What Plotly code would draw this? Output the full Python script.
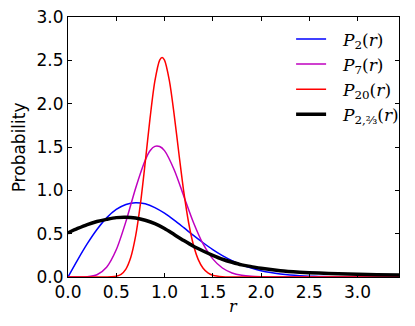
import plotly.graph_objects as go

# ---- data ----
r_p2 = [0.0, 0.1, 0.2, 0.3, 0.4, 0.5, 0.6, 0.7, 0.8, 0.9, 1.0, 1.1, 1.2, 1.3, 1.4, 1.5, 1.6, 1.7,
        1.8, 1.9, 2.0, 2.1, 2.2, 2.3, 2.4, 2.5, 2.6, 2.7, 2.8, 2.9, 3.0, 3.2, 3.43]
p2 = [0.0, 0.198, 0.384, 0.548, 0.682, 0.779, 0.837, 0.858, 0.844, 0.801, 0.736, 0.656, 0.569,
      0.480, 0.395, 0.316, 0.247, 0.189, 0.141, 0.103, 0.073, 0.051, 0.035, 0.023, 0.015, 0.0097,
      0.006, 0.0037, 0.0022, 0.0013, 0.0007, 0.0002, 0.0]

r_p7 = [0.0, 0.1, 0.2, 0.3, 0.4, 0.5, 0.6, 0.7, 0.8, 0.85, 0.9, 0.95, 1.0, 1.1, 1.2, 1.3, 1.4, 1.5,
        1.6, 1.7, 1.8, 1.9, 2.0, 2.1, 2.3, 2.6, 3.0, 3.43]
p7 = [0.0, 0.0, 0.0027, 0.0257, 0.113, 0.314, 0.639, 1.022, 1.347, 1.456, 1.507, 1.505, 1.458,
      1.238, 0.933, 0.629, 0.381, 0.209, 0.104, 0.047, 0.0195, 0.0074, 0.0026, 0.0008, 0.0, 0.0,
      0.0, 0.0]

r_p20 = [0.0, 0.2, 0.4, 0.45, 0.5, 0.55, 0.6, 0.65, 0.7, 0.75, 0.8, 0.85, 0.9, 0.95, 0.975, 1.0,
         1.05, 1.1, 1.15, 1.2, 1.25, 1.3, 1.35, 1.4, 1.45, 1.5, 1.6, 1.7, 1.8, 2.0, 2.5, 3.0, 3.43]
p20 = [0.0, 0.0, 0.0003, 0.0019, 0.0086, 0.0312, 0.0917, 0.2247, 0.4677, 0.840, 1.319, 1.830,
       2.259, 2.503, 2.534, 2.502, 2.268, 1.874, 1.416, 0.981, 0.626, 0.369, 0.201, 0.101, 0.0475,
       0.0207, 0.0032, 0.0004, 0.0, 0.0, 0.0, 0.0, 0.0]

r_pb = [0.0, 0.1, 0.2, 0.3, 0.4, 0.5, 0.6, 0.7, 0.8, 0.9, 1.0, 1.1, 1.2, 1.3, 1.4, 1.5, 1.6, 1.7,
        1.8, 1.9, 2.0, 2.2, 2.4, 2.6, 2.8, 3.0, 3.2, 3.43]
pb = [0.51, 0.56, 0.605, 0.64, 0.665, 0.685, 0.69, 0.68, 0.655, 0.615, 0.56, 0.49, 0.42, 0.355,
      0.30, 0.25, 0.205, 0.17, 0.14, 0.12, 0.10, 0.072, 0.056, 0.045, 0.037, 0.031, 0.027, 0.024]

x_ticks = [0.0, 0.5, 1.0, 1.5, 2.0, 2.5, 3.0]
y_ticks = [0.0, 0.5, 1.0, 1.5, 2.0, 2.5, 3.0]

names = ["\u2002\u2009<i>P</i><sub>2</sub>(<i>r</i>)",
         "\u2002\u2009<i>P</i><sub>7</sub>(<i>r</i>)",
         "\u2002\u2009<i>P</i><sub>20</sub>(<i>r</i>)",
         "\u2002\u2009<i>P</i><sub>2,⅔</sub>(<i>r</i>)"]

fig = go.Figure()
fig.add_trace(go.Scatter(x=r_p2, y=p2, mode="lines", name=names[0],
                         line=dict(color="#0000ff", width=1.5, shape="spline", smoothing=0.8)))
fig.add_trace(go.Scatter(x=r_p7, y=p7, mode="lines", name=names[1],
                         line=dict(color="#bf00bf", width=1.5, shape="spline", smoothing=0.8)))
fig.add_trace(go.Scatter(x=r_p20, y=p20, mode="lines", name=names[2],
                         line=dict(color="#ff0000", width=1.5, shape="spline", smoothing=0.8)))
fig.add_trace(go.Scatter(x=r_pb, y=pb, mode="lines", name=names[3],
                         line=dict(color="#000000", width=3.5, shape="spline", smoothing=0.8)))

axis_common = dict(showline=True, linecolor="black", linewidth=1, mirror="ticks",
                   ticks="inside", ticklen=4, tickwidth=1, tickcolor="black",
                   showgrid=False, zeroline=False, automargin=False,
                   tickfont=dict(family="DejaVu Sans", size=17, color="black"))

fig.update_xaxes(range=[0, 3.43], tickvals=x_ticks, ticktext=[f"{v:.1f}" for v in x_ticks],
                 **axis_common)
fig.update_yaxes(range=[0, 3.0], tickvals=y_ticks, ticktext=[f"{v:.1f}" for v in y_ticks],
                 **axis_common)

fig.add_annotation(text="<i>r</i>", xref="paper", yref="paper", x=0.5, y=-0.113,
                   xanchor="center", yanchor="middle", showarrow=False,
                   font=dict(family="DejaVu Serif", size=16, color="black"))
fig.add_annotation(text="Probability", xref="paper", yref="paper", x=-0.147, y=0.5,
                   xanchor="center", yanchor="middle", showarrow=False, textangle=-90,
                   font=dict(family="DejaVu Sans", size=17, color="black"))

fig.update_layout(
    width=415, height=326,
    margin=dict(l=68, r=11, t=17, b=49),
    paper_bgcolor="white", plot_bgcolor="white",
    showlegend=True,
    legend=dict(x=0.674, y=0.983, xanchor="left", yanchor="top",
                bgcolor="rgba(0,0,0,0)", borderwidth=0,
                font=dict(family="DejaVu Serif", size=17, color="black"),
                tracegroupgap=0),
)

fig.write_html("out.html", config={"displayModeBar": False},
               post_script="document.body.style.margin='0';document.body.style.overflow='hidden';")
